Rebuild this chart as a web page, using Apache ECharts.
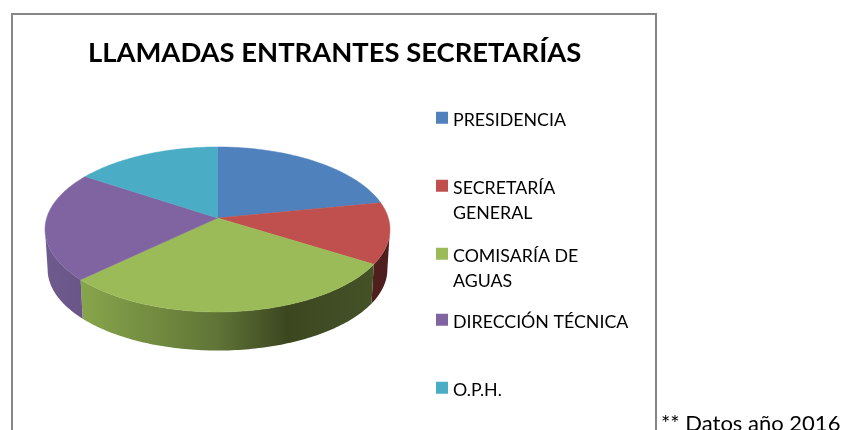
<!DOCTYPE html>
<html><head><meta charset="utf-8">
<style>html,body{margin:0;padding:0;background:#fff;overflow:hidden}#c{width:844px;height:430px}</style>
<script src="https://cdn.jsdelivr.net/npm/echarts@6/dist/echarts.min.js"></script>
</head><body><div id="c"></div>
<script>
const categories = ['PRESIDENCIA','SECRETARÍA GENERAL','COMISARÍA DE AGUAS','DIRECCIÓN TÉCNICA','O.P.H.'];
const legendLines = [['PRESIDENCIA'],['SECRETARÍA','GENERAL'],['COMISARÍA DE','AGUAS'],['DIRECCIÓN TÉCNICA'],['O.P.H.']];
const values = [21.9, 12.0, 29.0, 21.4, 15.7];
const chartTitle = 'LLAMADAS ENTRANTES SECRETARÍAS';
const footnote = '** Datos año 2016';

const colors = ['#4F81BD','#C0504D','#9BBB59','#8064A2','#4BACC6'];
const FONT = 'Lato, "Noto Sans", sans-serif';
const total = values.reduce((a,b)=>a+b,0);
// projection of the tilted disc
const P = {cx:217.5, cy:218, R:170.8, B:80.9, k:0.139, depth:40, shrink:0.985};
function proj(theta, r, bottom){
  const X = r*Math.sin(theta), Y = -r*Math.cos(theta);
  const w = 1/(1-P.k*Y);
  const dx = P.R*X*w, dy = P.B*Y*w;
  if (bottom) return [P.cx+dx*P.shrink, P.cy+dy*P.shrink+P.depth];
  return [P.cx+dx, P.cy+dy];
}
function arc(a,b,bottom){
  const n = Math.max(2,Math.ceil((b-a)/(Math.PI/180)));
  const pts=[];
  for(let i=0;i<=n;i++) pts.push(proj(a+(b-a)*i/n,1,bottom));
  return pts;
}
const G = (stops)=>new echarts.graphic.LinearGradient(45,0,390,0,stops,true);
const wallFills = [
  '#3A5F8C',
  G([{offset:0,color:'#4f1f1e'},{offset:1,color:'#4f1f1e'}]),
  G([{offset:0,color:'#9BBB59'},{offset:0.1,color:'#88A64C'},{offset:0.5,color:'#5F7436'},{offset:0.7,color:'#3C4720'},{offset:1,color:'#465429'}]),
  G([{offset:0,color:'#6F5A8E'},{offset:0.1,color:'#6B5688'},{offset:1,color:'#6B5688'}]),
  '#38808F'
];
// rim points where the outline of the disc is tangent to the wall
const tangent = Math.acos(-P.k);
function renderSlice(params, api){
  const i = params.seriesIndex;
  const before = values.slice(0,i).reduce((a,b)=>a+b,0);
  const a = before/total*2*Math.PI;
  const b = (before+api.value(0))/total*2*Math.PI;
  const top = [proj(0,0,false)].concat(arc(a,b,false));
  const children = [];
  const va = Math.max(a, tangent), vb = Math.min(b, 2*Math.PI-tangent);
  if (vb>va){
    const up = arc(va,vb,false), down = arc(va,vb,true).reverse();
    children.push({type:'polygon',z2:1,shape:{points:up.concat(down)},
      style:{fill:wallFills[i],stroke:null}});
  }
  children.push({type:'polygon',z2:10,shape:{points:top},
    style:{fill:colors[i],stroke:colors[i],lineWidth:0.5}});
  return {type:'group',children};
}
const legendCenters = [119,187,255,321,389];
const LH = 25.5;
const legends = categories.map((name,i)=>{
  const lines = legendLines[i];
  const rows = lines.length>1 ? [' '].concat(lines) : lines;
  const text = rows.map(s=>'{t|'+s+'}').join('\n');
  return {
    data:[name], orient:'vertical', left:436, top:legendCenters[i]-rows.length*LH/2, padding:0,
    icon:'rect', itemWidth:12, itemHeight:12, itemGap:0, selectedMode:false,
    formatter:()=>text,
    textStyle:{rich:{t:{fontFamily:FONT,fontSize:17.8,color:'#000',lineHeight:LH,padding:[5,0,0,0]}}}
  };
});
const chart = echarts.init(document.getElementById('c'),null,{renderer:'canvas'});
chart.setOption({
  animation:false,
  backgroundColor:'#fff',
  title:[
    {text:chartTitle,left:88,top:40,padding:0,textStyle:{fontFamily:FONT,fontWeight:'bold',fontSize:27.4,color:'#000'}},
    {text:footnote,left:661,top:413,padding:0,textStyle:{fontFamily:FONT,fontWeight:'normal',fontSize:22,color:'#000'}}
  ],
  legend:legends,
  graphic:[{type:'rect',z:-1,shape:{x:12,y:14,width:644,height:430},style:{fill:'#fff',stroke:'#868686',lineWidth:2}}],
  series:categories.map((name,i)=>({
    type:'custom',name,coordinateSystem:'none',
    itemStyle:{color:colors[i]},
    renderItem:renderSlice,
    data:[[values[i]]],
    silent:true
  }))
});
</script></body></html>
